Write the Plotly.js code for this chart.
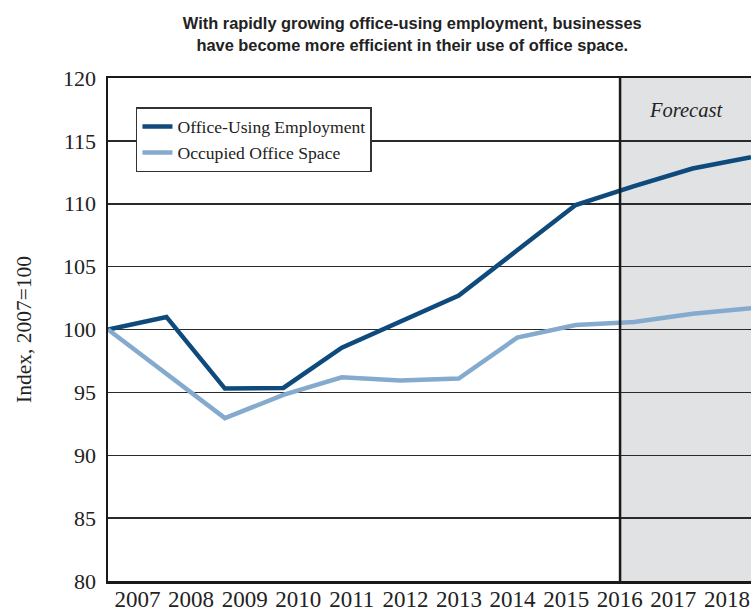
<!DOCTYPE html>
<html>
<head>
<meta charset="utf-8">
<script src="https://cdn.plot.ly/plotly-3.0.1.min.js"></script>
<style>html,body{margin:0;padding:0;background:#fff;}#chart{width:751px;height:614px;}</style>
</head>
<body>
<div id="chart"></div>
<script>
const years = [2007, 2008, 2009, 2010, 2011, 2012, 2013, 2014, 2015, 2016, 2017, 2018];
const employment = [100, 101.0, 95.3, 95.35, 98.55, 100.6, 102.7, 106.3, 109.9, 111.4, 112.8, 113.7];
const officeSpace = [100, 96.5, 92.95, 94.8, 96.2, 95.95, 96.1, 99.35, 100.35, 100.6, 101.25, 101.7];
const tickLabels = ['2007','2008','2009','2010','2011','2012','2013','2014','2015','2016','2017','2018'];
const yTicks = [80, 85, 90, 95, 100, 105, 110, 115, 120];
const forecastStart = 2015.76;

const serif = '"Liberation Serif", "Times New Roman", serif';

const traces = [
  {x: years, y: employment, type: 'scatter', mode: 'lines', name: 'Office-Using Employment',
   line: {color: '#0f4a7c', width: 4.5}, hoverinfo: 'skip'},
  {x: years, y: officeSpace, type: 'scatter', mode: 'lines', name: 'Occupied Office Space',
   line: {color: '#84abcd', width: 4.5}, hoverinfo: 'skip'},
  {x: years, y: years.map(() => null), xaxis: 'x2', type: 'scatter', mode: 'lines',
   showlegend: false, hoverinfo: 'skip'}
];

const layout = {
  width: 751, height: 614,
  margin: {l: 108, r: 0, t: 78, b: 33},
  paper_bgcolor: '#fff', plot_bgcolor: '#fff',
  title: {
    text: '<b>With rapidly growing office-using employment, businesses<br>have become more efficient in their use of office space.</b>',
    font: {family: '"Liberation Sans", Arial, sans-serif', size: 16.4, color: '#222'},
    x: 0.549, xanchor: 'center', y: 0.952, yanchor: 'middle'
  },
  xaxis: {
    range: [2007, 2018], showticklabels: false, ticks: '', showgrid: false, zeroline: false,
    showline: true, linecolor: '#1a1a1a', linewidth: 2.5, mirror: true, fixedrange: true
  },
  xaxis2: {
    overlaying: 'x', anchor: 'y', side: 'bottom',
    range: [2006.45, 2018.45], tickvals: years, ticktext: tickLabels,
    ticks: '', showgrid: false, zeroline: false, showline: false,
    tickfont: {family: serif, size: 23, color: '#222'}, fixedrange: true,
    ticklabelstandoff: 2
  },
  yaxis: {
    range: [80, 120], tickvals: yTicks, ticks: '', showgrid: true,
    gridcolor: '#2a2a2a', gridwidth: 1.5, zeroline: false,
    showline: true, linecolor: '#1a1a1a', linewidth: 2.5,
    tickfont: {family: serif, size: 22, color: '#222'},
    ticklabelstandoff: 5,
    title: {text: 'Index, 2007=100', font: {family: serif, size: 21.5, color: '#222'}, standoff: 26},
    fixedrange: true
  },
  legend: {
    x: 0.0435, y: 0.942, xanchor: 'left', yanchor: 'top',
    bgcolor: '#fff', bordercolor: '#333', borderwidth: 1.5,
    font: {family: serif, size: 17.6, color: '#222'},
    tracegroupgap: 0
  },
  shapes: [
    {type: 'rect', xref: 'x', yref: 'paper', x0: forecastStart, x1: 2018, y0: 0, y1: 1,
     fillcolor: '#e1e2e4', line: {width: 0}, layer: 'below'},
    {type: 'line', xref: 'x', yref: 'paper', x0: forecastStart, x1: forecastStart, y0: 0, y1: 1,
     line: {color: '#1a1a1a', width: 2.5}, layer: 'above'}
  ],
  annotations: [
    {text: '<i>Forecast</i>', xref: 'paper', yref: 'paper', x: 0.899, y: 0.937,
     xanchor: 'center', yanchor: 'middle', showarrow: false,
     font: {family: serif, size: 20.5, color: '#222'}}
  ]
};

Plotly.newPlot('chart', traces, layout, {displayModeBar: false, staticPlot: true});
</script>
</body>
</html>
